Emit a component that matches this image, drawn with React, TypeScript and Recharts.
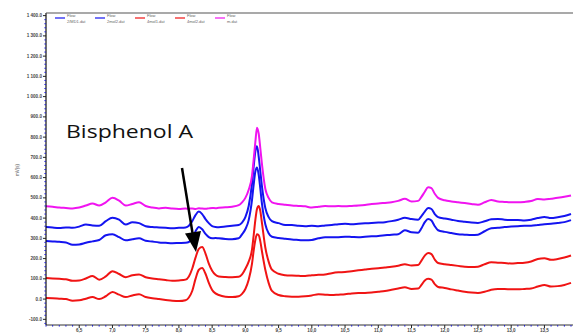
import React from 'react';
import { LineChart, Line, XAxis, YAxis } from 'recharts';

// retention time (min)
const times = [
  6.0, 6.1, 6.2, 6.3, 6.4, 6.5, 6.6, 6.7, 6.8, 6.9, 7.0, 7.1, 7.2, 7.3, 7.4, 7.5, 7.6, 7.7, 7.8, 7.9, 8.0, 8.1,
  8.15, 8.2, 8.25, 8.3, 8.35, 8.4, 8.45, 8.5, 8.55, 8.6,
  8.7, 8.8, 8.9, 8.95,
  9.0, 9.05, 9.1, 9.125, 9.15, 9.175, 9.2, 9.225, 9.25, 9.3, 9.35, 9.4,
  9.5, 9.6, 9.7, 9.8, 9.9, 10.0, 10.1, 10.2, 10.3, 10.4, 10.5, 10.6, 10.7, 10.8, 10.9, 11.0, 11.1, 11.2, 11.3, 11.4, 11.5, 11.6,
  11.65, 11.7, 11.75, 11.8, 11.85, 11.9,
  12.0, 12.1, 12.2, 12.3, 12.4, 12.5, 12.6, 12.7, 12.8, 12.9, 13.0, 13.1, 13.2, 13.3, 13.4, 13.5, 13.6, 13.7, 13.8, 13.9,
];

const flow2MD1 = [
  287, 285, 283, 280, 268, 270, 278, 285, 292, 315, 320, 306, 290, 296, 300, 288, 284, 280, 278, 276, 277, 278,
  282, 300, 335, 356, 345, 322, 306, 300, 302, 300,
  297, 296, 300, 320,
  345, 390, 490, 565, 630, 650, 615, 545, 470, 370, 325, 308,
  302, 298, 294, 292, 290, 292, 300, 306, 305, 306, 308, 307, 306, 308, 310, 312, 315, 318, 320, 340, 330, 328,
  350, 380, 396, 388, 360, 340,
  332, 326, 320, 318, 316, 318, 335, 350, 352, 356, 358, 360, 362, 362, 366, 370, 372, 376, 380, 390,
];

const flow2mol2 = [
  356, 353, 351, 354, 352, 358, 368, 364, 362, 385, 402, 392, 368, 380, 375, 360, 356, 354, 352, 350, 352, 354,
  362, 385, 415, 432, 420, 395, 375, 360, 356, 355,
  358, 362, 366, 378,
  405, 460, 570, 655, 730, 755, 705, 630, 555, 450, 405, 385,
  375, 366, 366, 362, 360, 362, 360, 364, 366, 370, 372, 370, 372, 374, 376, 378, 380, 385, 392, 402, 395, 392,
  410, 432, 450, 445, 420, 405,
  398, 392, 386, 382, 378, 376, 384, 394, 396, 392, 390, 390, 388, 392, 400, 406, 400, 404, 410, 420,
];

const flow4mol1 = [
  5, 4, 2, 0, -8, -6, 2, 10, 0, 14, 35, 22, 10, 18, 24, 10, 4, 0, -4, -8, -10, -6,
  8, 40, 100, 145, 153, 125, 80, 45, 28, 20,
  12, 10, 14, 26,
  50, 95, 175, 240, 292, 320, 316, 285, 235, 145, 80, 40,
  20, 14, 12, 12, 14, 18, 24, 22, 20, 22, 24, 28, 30, 30, 32, 36, 40, 46, 52, 58, 50, 52,
  70, 92, 100, 96, 74, 60,
  55, 48, 42, 36, 32, 30, 36, 46, 50, 50, 48, 48, 50, 52, 62, 70, 62, 64, 70, 80,
];

const flow4mol2 = [
  104, 102, 100, 98, 90, 92, 102, 114, 96, 112, 138, 124, 108, 118, 122, 108, 102, 98, 94, 90, 92, 96,
  112, 150, 205, 248, 257, 225, 175, 140, 120, 112,
  109, 108, 110, 122,
  150, 185, 245, 315, 390, 445, 460, 435, 375, 255, 185, 145,
  125, 118, 116, 115, 114, 118, 120, 122, 128, 132, 134, 138, 142, 146, 150, 152, 156, 160, 165, 172, 166, 168,
  190, 215, 228, 222, 195, 178,
  172, 168, 164, 160, 158, 160, 172, 182, 180, 178, 176, 178, 180, 186, 198, 202, 194, 198, 205, 215,
];

const flowM = [
  458, 456, 452, 450, 448, 452, 462, 472, 462, 478, 500, 486, 462, 470, 478, 460, 452, 448, 451, 447, 445, 447,
  446, 448, 445, 449, 447, 446, 448, 450, 449, 451,
  453, 456, 464, 478,
  500, 540, 610, 690, 775, 846, 818, 745, 665, 545, 500, 478,
  470, 466, 462, 460, 458, 452, 456, 460, 458, 460, 458, 460, 462, 465, 470, 472, 475, 478, 485, 495, 482, 485,
  505, 530, 552, 548, 520, 500,
  488, 482, 478, 474, 470, 466, 478, 490, 482, 480, 478, 478, 480, 484, 494, 492, 496, 500, 505, 512,
];

const seriesNames = ['2/MD1.dat', '2mol2.dat', '4mol1.dat', '4mol2.dat', 'm.dat'];
const seriesKeys = ['s1', 's2', 's3', 's4', 's5'];
const seriesColors = ['#1414f0', '#1414f0', '#f01414', '#f01414', '#f014f0'];

const yMajorTicks = [-100, 0, 100, 200, 300, 400, 500, 600, 700, 800, 900, 1000, 1100, 1200, 1300, 1400];
const xMajorTicks = [6.5, 7.0, 7.5, 8.0, 8.5, 9.0, 9.5, 10.0, 10.5, 11.0, 11.5, 12.0, 12.5, 13.0, 13.5];

const data = times.map((t, i) => ({
  t,
  s1: flow2MD1[i],
  s2: flow2mol2[i],
  s3: flow4mol1[i],
  s4: flow4mol2[i],
  s5: flowM[i],
}));

const yTicksAll: number[] = [];
for (let v = -120; v <= 1400; v += 20) yTicksAll.push(v);
const xTicksAll: number[] = [];
for (let k = 60; k <= 139; k += 1) xTicksAll.push(k / 10);

const fmtY = (v: number) => {
  const a = Math.abs(v);
  const sign = v < 0 ? '-' : '';
  if (a >= 1000) {
    return `${sign}${Math.floor(a / 1000)} ${String(a % 1000).padStart(3, '0')}.0`;
  }
  return `${sign}${a}.0`;
};
const fmtX = (v: number) => v.toFixed(1).replace('.', ',');

const isMajorY = (v: number) => yMajorTicks.includes(v);
const isMajorX = (v: number) => xMajorTicks.some((m) => Math.abs(m - v) < 1e-6);

const renderYTick = (props: any) => {
  const { x, y, payload } = props;
  const v = payload.value;
  const major = isMajorY(v);
  return (
    <g key={`yt-${v}`}>
      <line x1={x - (major ? 3 : 1.6)} x2={x} y1={y} y2={y} stroke={major ? '#222' : '#2020d0'} strokeWidth={1} />
      {major && (
        <text x={x - 4} y={y + 1.6} textAnchor="end" fontSize={4.6} fontWeight={700} fill="#444" fontFamily="Liberation Sans, Arial, sans-serif">
          {fmtY(v)}
        </text>
      )}
    </g>
  );
};

const renderXTick = (props: any) => {
  const { x, y, payload } = props;
  const v = payload.value;
  const major = isMajorX(v);
  return (
    <g key={`xt-${v}`}>
      <line x1={x} x2={x} y1={y} y2={y + (major ? 3 : 1.6)} stroke={major ? '#222' : '#2020d0'} strokeWidth={1} />
      {major && (
        <text x={x} y={y + 7} textAnchor="middle" fontSize={4.6} fontWeight={700} fill="#444" fontFamily="Liberation Sans, Arial, sans-serif">
          {fmtX(v)}
        </text>
      )}
    </g>
  );
};

export default function App() {
  return (
    <div style={{ position: 'absolute', left: 0, top: 0, width: 574, height: 333, background: '#fff' }}>
      <LineChart width={574} height={333} data={data} margin={{ top: 13, right: 1, bottom: 0, left: 16 }}>
        <XAxis
          dataKey="t"
          type="number"
          domain={[6.0, 13.93]}
          ticks={xTicksAll}
          interval={0}
          tick={renderXTick}
          tickLine={false}
          tickSize={0}
          tickMargin={0}
          height={8}
          axisLine={{ stroke: '#333', strokeWidth: 1 }}
          allowDataOverflow
        />
        <YAxis
          type="number"
          domain={[-128, 1413]}
          ticks={yTicksAll}
          interval={0}
          tick={renderYTick}
          tickLine={false}
          tickSize={0}
          tickMargin={0}
          width={30}
          axisLine={{ stroke: '#111', strokeWidth: 1.2 }}
          allowDataOverflow
        />
        {seriesKeys.map((k, i) => (
          <Line
            key={k}
            dataKey={k}
            type="monotone"
            stroke={seriesColors[i]}
            strokeWidth={2}
            dot={false}
            isAnimationActive={false}
          />
        ))}
      </LineChart>
      <svg width={574} height={333} style={{ position: 'absolute', left: 0, top: 0, pointerEvents: 'none' }}>
        <line x1={46} x2={573} y1={13} y2={13} stroke="#555" strokeWidth={1.2} />
        <text
          x={0}
          y={0}
          transform="translate(19,170) rotate(-90)"
          textAnchor="middle"
          fontSize={4.5}
          fill="#555"
          fontFamily="Liberation Sans, Arial, sans-serif"
        >
          mV(s)
        </text>
        {seriesNames.map((n, i) => (
          <g key={n}>
            <line x1={55 + 40 * i} x2={65 + 40 * i} y1={18} y2={18} stroke={seriesColors[i]} strokeWidth={1.2} />
            <text x={67 + 40 * i} y={17} fontSize={4} fill="#666" fontFamily="Liberation Sans, Arial, sans-serif">Flow</text>
            <text x={67 + 40 * i} y={23} fontSize={4} fill="#666" fontFamily="Liberation Sans, Arial, sans-serif">{n}</text>
          </g>
        ))}
        <text
          x={66}
          y={138}
          fontSize={19}
          fill="#111"
          fontFamily="Open Sans, Noto Sans, sans-serif"
          textLength={127}
          lengthAdjust="spacingAndGlyphs"
        >
          Bisphenol A
        </text>
        <line x1={182} x2={192.5} y1={168} y2={233} stroke="#000" strokeWidth={2.5} />
        <polygon points="196,252 201,231 185,233.6" fill="#000" />
      </svg>
    </div>
  );
}
